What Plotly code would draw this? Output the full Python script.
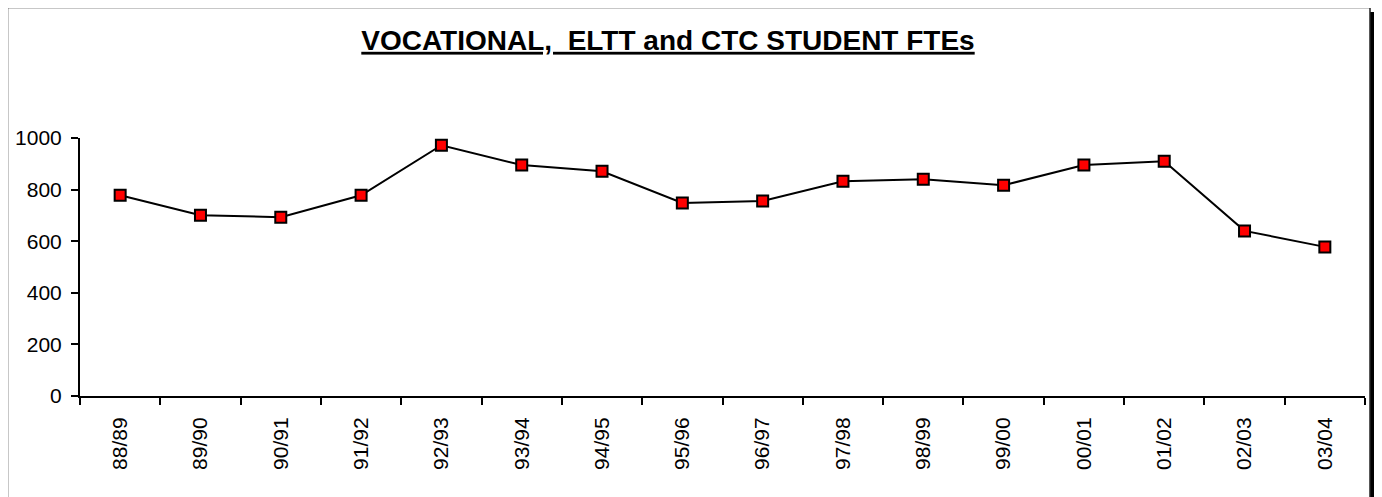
import plotly.graph_objects as go

categories = ["88/89", "89/90", "90/91", "91/92", "92/93", "93/94", "94/95", "95/96",
              "96/97", "97/98", "98/99", "99/00", "00/01", "01/02", "02/03", "03/04"]
ftes = [778, 701, 693, 778, 972, 895, 871, 748, 756, 832, 840, 817, 895, 910, 640, 578]
y_ticks = [0, 200, 400, 600, 800, 1000]

OFF = 8  # page body margin
W, H = 1382 - OFF, 497 - OFF
L, R, T, B = 80 - OFF, 17, 138 - OFF, 101
pw, ph = W - L - R, H - T - B

def px(x):
    return (x - OFF - L) / pw

def py(y):
    return (H - B - (y - OFF)) / ph

fig = go.Figure()
fig.add_trace(go.Scatter(
    x=categories, y=ftes, mode="lines+markers",
    line=dict(color="black", width=2),
    marker=dict(symbol="square", size=11, color="#ff0000",
                line=dict(color="black", width=2)),
    showlegend=False, cliponaxis=False,
))

fig.update_layout(
    width=W, height=H, autosize=False,
    margin=dict(l=L, r=R, t=T, b=B),
    paper_bgcolor="white", plot_bgcolor="white",
    font=dict(family="Liberation Sans, Arial, sans-serif", color="black"),
    title=dict(
        text="<b>VOCATIONAL,\u00a0\u00a0ELTT and CTC STUDENT FTEs</b>",
        x=(668 - OFF) / W, xanchor="center", xref="container",
        y=1 - (40 - OFF) / H, yanchor="middle", yref="container",
        font=dict(size=28, family="Liberation Sans, Arial, sans-serif",
                  color="black", lineposition="under"),
    ),
    xaxis=dict(
        type="category", range=[-0.5, len(categories) - 0.5],
        showline=True, linecolor="black", linewidth=2,
        ticks="outside", tickson="boundaries", ticklen=7, tickwidth=2, tickcolor="black",
        tickangle=-90, tickfont=dict(size=21), showgrid=False, zeroline=False,
        automargin=False, ticklabelstandoff=11,
    ),
    yaxis=dict(
        range=[0, 1000], tickvals=y_ticks,
        showline=True, linecolor="black", linewidth=2,
        ticks="outside", ticklen=7, tickwidth=2, tickcolor="black",
        tickfont=dict(size=21), showgrid=False, zeroline=False,
        automargin=False, ticklabelstandoff=5,
    ),
    shapes=[
        dict(type="rect", xref="paper", yref="paper",
             x0=px(1370), x1=px(1378), y0=py(520), y1=py(12),
             fillcolor="black", line=dict(width=0), layer="below"),
        dict(type="rect", xref="paper", yref="paper",
             x0=px(7.5), x1=px(1370), y0=py(520), y1=py(7.5),
             fillcolor="rgba(0,0,0,0)", line=dict(color="#222", width=1.5), layer="below"),
    ],
)

fig.write_html("out.html")
